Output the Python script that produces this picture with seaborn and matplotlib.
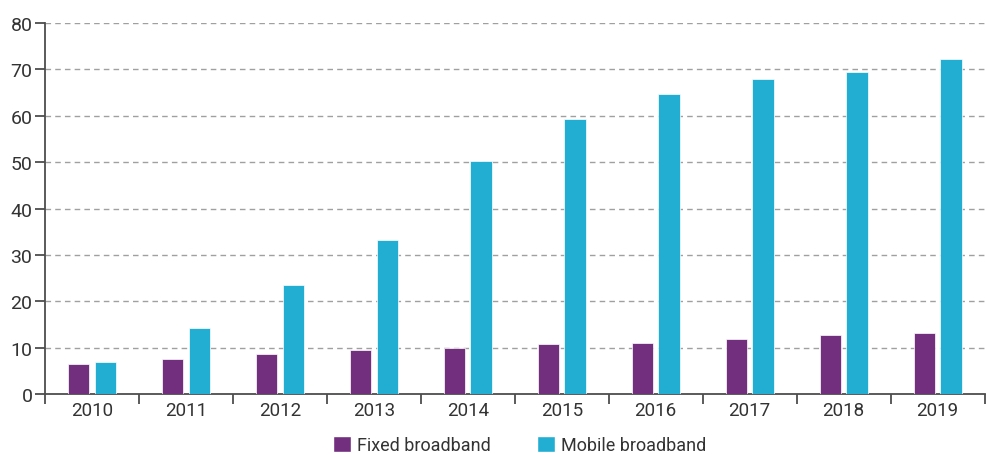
import matplotlib
matplotlib.use("Agg")
import matplotlib.pyplot as plt
import seaborn as sns
import pandas as pd
from matplotlib.patches import Patch

years = ["2010", "2011", "2012", "2013", "2014", "2015", "2016", "2017", "2018", "2019"]
fixed = [6.5, 7.5, 8.6, 9.4, 10.0, 10.7, 11.1, 11.8, 12.8, 13.2]
mobile = [6.9, 14.2, 23.4, 33.3, 50.2, 59.3, 64.6, 68.0, 69.5, 72.3]
series = ["Fixed broadband", "Mobile broadband"]
colors = ["#722F7E", "#22AED3"]

df = pd.DataFrame({
    "year": years * 2,
    "value": fixed + mobile,
    "series": [series[0]] * len(years) + [series[1]] * len(years),
})

sns.set_style("white")
plt.rcParams["font.family"] = ["Roboto", "DejaVu Sans"]

fig = plt.figure(figsize=(9.86, 4.56), dpi=100)
ax = fig.add_axes([0.0456, 0.1338, 0.953, 0.8135])

sns.barplot(data=df, x="year", y="value", hue="series", palette=colors, saturation=1,
            width=0.57, gap=0.2, ax=ax, legend=False, edgecolor="white", linewidth=0.5,
            zorder=3)

ax.set_ylim(0, 80)
ax.set_xlim(-0.5, len(years) - 0.5)
ax.set_yticks(range(0, 81, 10))
ax.set_xlabel("")
ax.set_ylabel("")

for y in range(10, 81, 10):
    ax.axhline(y, color="#a0a0a0", linestyle=(0, (4, 3)), linewidth=1.0, zorder=1)

for s in ["top", "right"]:
    ax.spines[s].set_visible(False)
for s in ["left", "bottom"]:
    ax.spines[s].set_color("#4d4d4d")
    ax.spines[s].set_linewidth(1.3)

ax.set_xticks([i + 0.5 for i in range(-1, len(years))], minor=False)
ax.set_xticklabels([])
ax.set_xticks(range(len(years)), minor=True)
ax.set_xticklabels(years, minor=True)
ax.tick_params(axis="x", which="major", length=7, width=1.3, color="#4d4d4d", direction="out")
ax.tick_params(axis="x", which="minor", length=0, labelsize=13.5, labelcolor="#333333", pad=5)
ax.tick_params(axis="y", length=7, width=1.3, color="#4d4d4d", direction="out",
               labelsize=14, labelcolor="#333333", pad=2)
ax.tick_params(left=True, bottom=True)

handles = [Patch(facecolor=c, label=l) for c, l in zip(colors, series)]
fig.legend(handles=handles, loc="center", bbox_to_anchor=(0.527, 0.022), ncol=2,
           frameon=False, fontsize=13, handlelength=1.0, handleheight=1.0,
           handletextpad=0.3, columnspacing=2.6, labelcolor="#333333")

fig.savefig("out.png", dpi=100)
